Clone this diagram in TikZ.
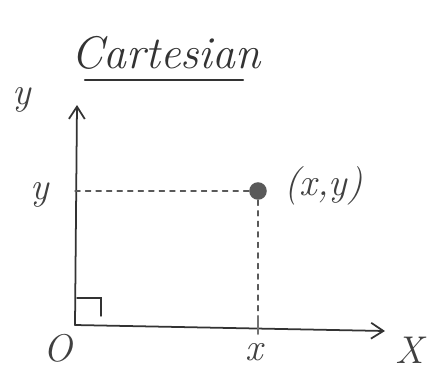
\documentclass[tikz,border=0pt]{standalone}
\usepackage{tikz}
\usetikzlibrary{arrows.meta}
\tikzset{
  pencil/.style={draw=black!80,line width=1pt,line cap=round},
  hand/.style={font=\fontsize{22}{26}\selectfont\itshape,text=black!75},
  guide/.style={draw=black!65,dashed,line width=0.6pt}
}
\begin{document}
\begin{tikzpicture}[x=0.02cm,y=-0.02cm,line cap=round]
    \useasboundingbox (0,0) rectangle (433,383);
    % title
    \node[font=\fontsize{26}{30}\selectfont\itshape,text=black!80,anchor=base] (title) at (166,68) {Cartesian};
    \draw[pencil,line width=1.3pt] (85,80)--(243,80);
    % axes
    \coordinate (O) at (75,325);
    \coordinate (ytop) at (77,105);
    \coordinate (xend) at (385,331);
    \draw[pencil,-{Straight Barb[length=7pt,width=9pt]}] (O)--(ytop);
    \draw[pencil,-{Straight Barb[length=7pt,width=9pt]}] (O)--(xend);
    \draw[pencil,line width=0.8pt] (77,298)--(101,298)--(101,316);
    % point
    \node[circle,fill=black!65,inner sep=0pt,minimum size=10pt] (P) at (258,191) {};
    \coordinate (yP) at (O|-P);
    \coordinate (xP) at (P|-O);
    \draw[guide] (P.west)--(yP);
    \draw[guide] (P.south)--(xP);
    \draw[pencil,line width=1.6pt,black!55] ([yshift=-5]xP)--([yshift=5]xP);
    % labels
    \node[hand] (ylab) at (22,100) {y};
    \node[hand] (Xlab) at (410,350) {X};
    \node[hand] (Olab) at (58,348) {O};
    \node[hand] (xlab) at (254,352) {x};
    \node[hand] (yval) at (40,195) {y};
    \node[hand,anchor=west] (Plab) at (278,186) {(x,y)};
\end{tikzpicture}
\end{document}
